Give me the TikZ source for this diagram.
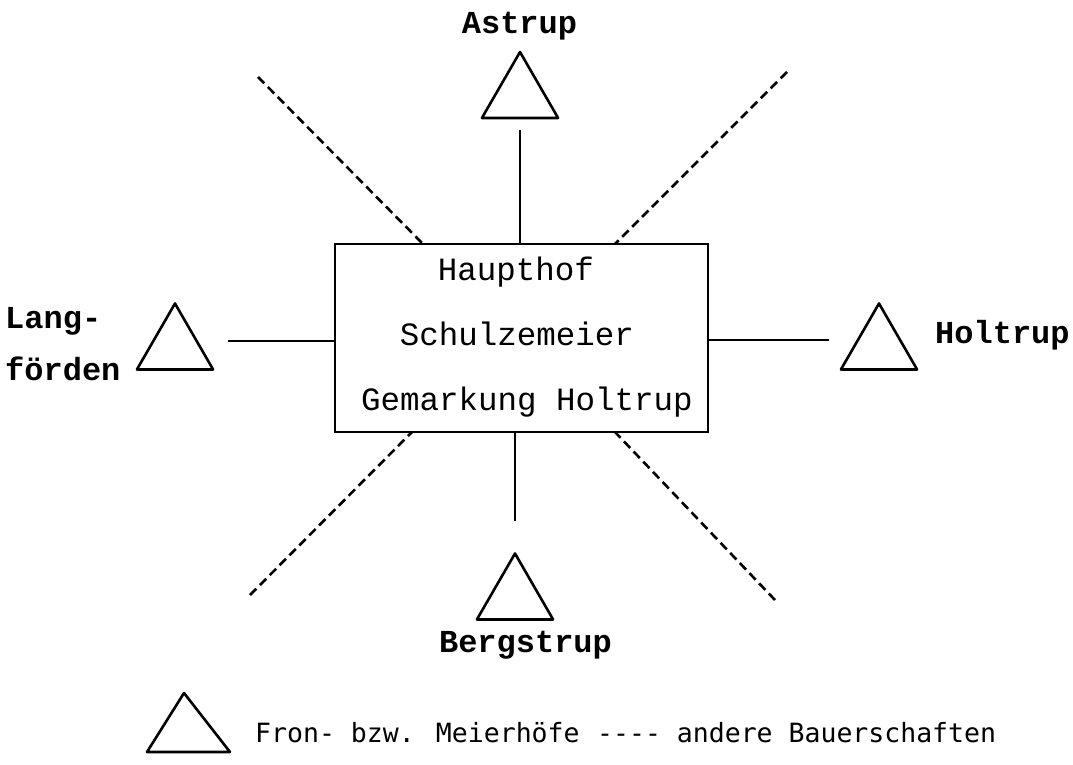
\documentclass[tikz,border=0pt]{standalone}
\usepackage{fontspec}
\newfontfamily\twfont{Liberation Mono}
\newfontfamily\legfont{DejaVu Sans Mono}
\usetikzlibrary{shapes.geometric}
\begin{document}
\begin{tikzpicture}[x=1pt,y=-1pt,
  tri/.style={draw, line width=2.6pt, line join=round, regular polygon, regular polygon sides=3, minimum size=88pt, inner sep=0pt, outer sep=0pt},
  conn/.style={line width=2pt},
  dashline/.style={line width=2.6pt, dash pattern=on 9pt off 5pt},
  lbl/.style={font=\twfont\bfseries\fontsize{32}{36}\selectfont, inner sep=0pt},
  boxtxt/.style={font=\twfont\fontsize{32.5}{38}\selectfont, inner sep=0pt},
  legtxt/.style={font=\legfont\fontsize{26.5}{30}\selectfont, inner sep=0pt}]
\useasboundingbox (0,0) rectangle (1073,765);
% central box
\node[draw, line width=2.6pt, minimum width=373pt, minimum height=188pt, inner sep=0pt, outer sep=0pt] (box) at (521.5,338) {};
\node[boxtxt, anchor=base] (t1) at (516,280) {Haupthof};
\node[boxtxt, anchor=base] (t2) at (517,345) {Schulzemeier};
\node[boxtxt, anchor=base] (t3) at (527,410) {Gemarkung Holtrup};
% triangles
\node[tri] (tA) at (520,96) {};
\node[tri] (tB) at (515,597.5) {};
\node[tri] (tL) at (175,347.5) {};
\node[tri] (tH) at (879,347.5) {};
% labels
\node[lbl, anchor=base] (lA) at (519.5,34) {Astrup};
\node[lbl, anchor=base] (lB) at (525.5,652) {Bergstrup};
\node[lbl, anchor=base west] (lH) at (935,343) {Holtrup};
\node[lbl, anchor=base west] (lL1) at (5,328) {Lang-};
\node[lbl, anchor=base west] (lL2) at (5,380) {förden};
% solid connectors
\coordinate (cL) at (228,341);
\coordinate (cR) at (829,340);
\draw[conn] ([yshift=-12pt]tA.south) -- (tA.south |- box.north);
\draw[conn] (tB.north |- box.south) -- ([yshift=33pt]tB.north);
\draw[conn] (cL) -- (cL -| box.west);
\draw[conn] (cR -| box.east) -- (cR);
% dashed connectors
\coordinate (dTL) at (258,77);
\coordinate (dTR) at (787,72);
\coordinate (dBL) at (250,595);
\coordinate (dBR) at (775,600);
\draw[dashline] (dTL) -- ([xshift=88pt]box.north west);
\draw[dashline] (dTR) -- ([xshift=-93pt]box.north east);
\draw[dashline] (dBL) -- ([xshift=77pt]box.south west);
\draw[dashline] (dBR) -- ([xshift=-93pt]box.south east);
% legend
\draw[line width=2.6pt, line join=round] (147,752) -- (184,693) -- (230,752) -- cycle;
\node[legtxt, anchor=base west] (leg1) at (255,742) {Fron- bzw. Meierhöfe};
\node[legtxt, anchor=base west] (leg2) at (597,742) {---- andere Bauerschaften};
\end{tikzpicture}
\end{document}
